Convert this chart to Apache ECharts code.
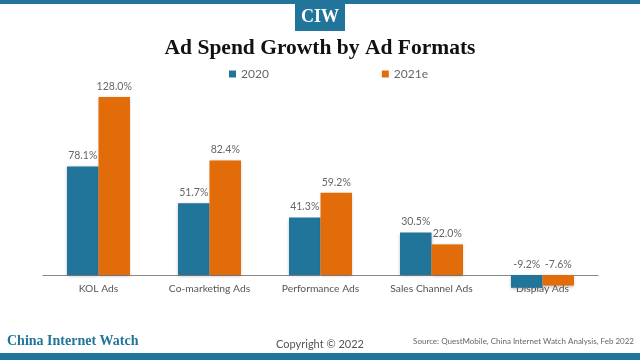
<!DOCTYPE html>
<html>
<head>
<meta charset="utf-8">
<script src="https://cdn.jsdelivr.net/npm/echarts@6/dist/echarts.min.js"></script>
<style>html,body{margin:0;padding:0;background:#fff}#c{width:640px;height:360px}</style>
</head>
<body>
<div id="c"></div>
<script>
const categories = ['KOL Ads', 'Co-marketing Ads', 'Performance Ads', 'Sales Channel Ads', 'Display Ads'];
const series2020 = [78.1, 51.7, 41.3, 30.5, -9.2];
const series2021e = [128.0, 82.4, 59.2, 22.0, -7.6];
const seriesNames = ['2020', '2021e'];

const teal = '#21759b';
const orange = '#e36c0a';
const chart = echarts.init(document.getElementById('c'), null, {renderer: 'canvas'});
const labelStyle = {
  show: true, position: 'top', distance: 5,
  formatter: p => p.value.toFixed(1) + '%',
  color: '#666', fontFamily: 'Lato', fontSize: 10.5
};
chart.setOption({
  animation: false,
  title: {
    text: 'Ad Spend Growth by Ad Formats',
    left: 'center', top: 32,
    textStyle: {fontFamily: 'Liberation Serif', fontWeight: 'bold', fontSize: 21.5, color: '#111'}
  },
  legend: {
    top: 63, left: 224, itemGap: 113,
    itemWidth: 7, itemHeight: 7, icon: 'rect',
    textStyle: {fontFamily: 'Lato', fontSize: 12, color: '#666'},
    data: seriesNames
  },
  grid: {left: 43, right: 42, top: 94.3, bottom: 85},
  xAxis: {
    type: 'category', data: categories,
    axisLine: {lineStyle: {color: '#888', width: 1}},
    axisTick: {show: false},
    axisLabel: {color: '#555', fontFamily: 'Lato', fontSize: 10.3, margin: 9, interval: 0}
  },
  yAxis: {type: 'value', min: 0, max: 130, show: false, splitLine: {show: false}},
  graphic: [
    {type: 'rect', shape: {x: 0, y: 0, width: 640, height: 4}, style: {fill: teal}},
    {type: 'rect', shape: {x: 295, y: 0, width: 50, height: 31}, style: {fill: teal}},
    {type: 'text', x: 320, y: 17, style: {text: 'CIW', fill: '#fff', font: 'bold 18px "Liberation Serif"', textAlign: 'center', textVerticalAlign: 'middle'}},
    {type: 'rect', shape: {x: 0, y: 353, width: 640, height: 7}, style: {fill: teal}},
    {type: 'text', x: 7, y: 341, style: {text: 'China Internet Watch', fill: teal, font: 'bold 14px "Liberation Serif"', textAlign: 'left', textVerticalAlign: 'middle'}},
    {type: 'text', x: 320, y: 344, style: {text: 'Copyright © 2022', fill: '#555', font: '11px Lato', textAlign: 'center', textVerticalAlign: 'middle'}},
    {type: 'text', x: 634, y: 341, style: {text: 'Source: QuestMobile, China Internet Watch Analysis, Feb 2022', fill: '#666', font: '8px Lato', textAlign: 'right', textVerticalAlign: 'middle'}}
  ],
  series: [
    {name: seriesNames[0], type: 'bar', data: series2020, barWidth: 31.5, barGap: '0%', clip: false, itemStyle: {color: teal, shadowColor: 'rgba(0,0,0,0.25)', shadowBlur: 3, shadowOffsetY: 1}, label: labelStyle},
    {name: seriesNames[1], type: 'bar', data: series2021e, barWidth: 31.5, barGap: '0%', clip: false, itemStyle: {color: orange, shadowColor: 'rgba(0,0,0,0.25)', shadowBlur: 3, shadowOffsetY: 1}, label: labelStyle}
  ]
});
</script>
</body>
</html>
